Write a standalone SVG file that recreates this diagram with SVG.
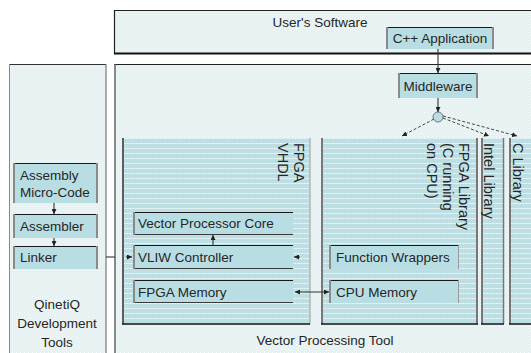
<svg xmlns="http://www.w3.org/2000/svg" width="531" height="353" viewBox="0 0 531 353">
  <defs>
    <style>
      text { font-family: "Liberation Sans", Arial, sans-serif; font-size: 13.5px; fill: #262626; }
      .mid { text-anchor: middle; }
      .vert { font-size: 14.5px; }
      .box { fill: #b8dee3; }
      .edgeTop { stroke: #1a1a1a; stroke-width: 1.2; }
      .edgeSide { stroke: #8a8a8a; stroke-width: 2; }
      .edgeBot { stroke: #3a3a3a; stroke-width: 1; }
      .conn { stroke: #333; stroke-width: 1.1; fill: none; }
      .dash { stroke: #444; stroke-width: 1; stroke-dasharray: 3 2; fill: none; }
    </style>
    <pattern id="haze" width="4" height="4" patternUnits="userSpaceOnUse">
      <rect width="4" height="4" fill="#e4f2f3"/>
      <rect x="0" y="0" width="1" height="1" fill="#f6fbfb"/>
      <rect x="2" y="2" width="1" height="1" fill="#f6fbfb"/>
    </pattern>
    <pattern id="stripes" width="6" height="5" patternUnits="userSpaceOnUse">
      <rect width="6" height="5" fill="#bddfe3"/>
      <rect x="0" y="3" width="6" height="1" fill="#d7edef"/>
      <rect x="1" y="3" width="1" height="1" fill="#eef8f9"/>
      <rect x="4" y="3" width="1" height="1" fill="#eef8f9"/>
    </pattern>
    <marker id="arr" viewBox="0 0 6 6" refX="6" refY="3" markerWidth="5" markerHeight="5" markerUnits="userSpaceOnUse" orient="auto-start-reverse">
      <path d="M0,0 L6,3 L0,6 Z" fill="#222"/>
    </marker>
  </defs>

  <rect width="531" height="353" fill="#ffffff"/>

  <!-- User's Software area -->
  <g id="users-software">
    <rect x="114" y="10.5" width="420" height="43" fill="url(#haze)"/>
    <line x1="114" y1="10.5" x2="531" y2="10.5" stroke="#222" stroke-width="1"/>
    <line x1="114.5" y1="10" x2="114.5" y2="54" stroke="#222" stroke-width="1.2"/>
    <line x1="114" y1="53.5" x2="531" y2="53.5" stroke="#111" stroke-width="2"/>
    <text x="320" y="27" class="mid">User's Software</text>
  </g>

  <!-- QinetiQ development tools area -->
  <g id="qinetiq-tools">
    <rect x="9" y="64" width="97" height="295" fill="url(#haze)"/>
    <line x1="9" y1="64.5" x2="106" y2="64.5" stroke="#333" stroke-width="1"/>
    <line x1="9.5" y1="64" x2="9.5" y2="353" stroke="#888" stroke-width="1"/>
    <line x1="106" y1="64" x2="106" y2="353" stroke="#777" stroke-width="1.2"/>
    <text x="57" y="309" class="mid">QinetiQ</text>
    <text x="57" y="328" class="mid">Development</text>
    <text x="57" y="347" class="mid">Tools</text>
  </g>

  <!-- Vector Processing Tool area -->
  <g id="vector-processing-tool">
    <rect x="114" y="64" width="420" height="295" fill="url(#haze)"/>
    <line x1="114" y1="64.5" x2="531" y2="64.5" stroke="#222" stroke-width="1"/>
    <line x1="115" y1="64" x2="115" y2="353" stroke="#666" stroke-width="1.5"/>
    <text x="325" y="345" class="mid">Vector Processing Tool</text>
  </g>

  <!-- Library panels -->
  <g id="fpga-vhdl">
    <rect x="122" y="138" width="188" height="186" fill="url(#stripes)"/>
    <line x1="123" y1="138" x2="123" y2="324" stroke="#5e5e5e" stroke-width="2"/>
    <line x1="310" y1="138" x2="310" y2="324" stroke="#9a9a9a" stroke-width="1"/>
    <line x1="122" y1="324" x2="310" y2="324" stroke="#111" stroke-width="1.5"/>
    <text class="vert" transform="translate(294,143) rotate(90)">FPGA</text>
    <text class="vert" transform="translate(278,143) rotate(90)">VHDL</text>
  </g>

  <g id="fpga-library">
    <rect x="321" y="138" width="157" height="186" fill="url(#stripes)"/>
    <line x1="322" y1="138" x2="322" y2="324" stroke="#777" stroke-width="2"/>
    <line x1="477" y1="138" x2="477" y2="324" stroke="#777" stroke-width="2"/>
    <line x1="321" y1="324" x2="478" y2="324" stroke="#111" stroke-width="1.5"/>
    <text class="vert" transform="translate(459,143) rotate(90)">FPGA Library</text>
    <text class="vert" transform="translate(443,143) rotate(90)">(C running</text>
    <text class="vert" transform="translate(427,143) rotate(90)">on CPU)</text>
  </g>

  <g id="intel-library">
    <rect x="481" y="138" width="23" height="186" fill="url(#stripes)"/>
    <line x1="482" y1="138" x2="482" y2="324" stroke="#777" stroke-width="2"/>
    <line x1="503.5" y1="138" x2="503.5" y2="324" stroke="#777" stroke-width="1.5"/>
    <line x1="481" y1="324" x2="504" y2="324" stroke="#111" stroke-width="1.5"/>
    <text class="vert" transform="translate(484,143) rotate(90)">Intel Library</text>
  </g>

  <g id="c-library">
    <rect x="509" y="138" width="30" height="186" fill="url(#stripes)"/>
    <line x1="510" y1="138" x2="510" y2="324" stroke="#777" stroke-width="2"/>
    <line x1="509" y1="324" x2="531" y2="324" stroke="#111" stroke-width="1.5"/>
    <text class="vert" transform="translate(513,143) rotate(90)">C Library</text>
  </g>

  <!-- Top-level software nodes -->
  <g id="cpp-application">
    <rect x="386" y="27" width="108" height="22" class="box"/>
    <line x1="386" y1="27.5" x2="494" y2="27.5" class="edgeTop"/>
    <line x1="387" y1="27" x2="387" y2="49" class="edgeSide"/>
    <line x1="493" y1="27" x2="493" y2="49" class="edgeSide"/>
    <text x="440" y="43" class="mid">C++ Application</text>
  </g>

  <g id="middleware">
    <rect x="398" y="73" width="80" height="25" class="box"/>
    <line x1="398" y1="73.5" x2="478" y2="73.5" class="edgeTop"/>
    <line x1="399" y1="73" x2="399" y2="98" class="edgeSide"/>
    <line x1="477" y1="73" x2="477" y2="98" class="edgeSide"/>
    <text x="438" y="91" class="mid">Middleware</text>
  </g>

  <g id="dispatch">
    <circle cx="438" cy="117" r="5" fill="#b8dee3" stroke="#777" stroke-width="1"/>
  </g>

  <!-- Development tool nodes -->
  <g id="assembly-micro-code">
    <rect x="13" y="163" width="85" height="40" class="box"/>
    <line x1="13" y1="163.5" x2="98" y2="163.5" class="edgeTop"/>
    <line x1="14" y1="163" x2="14" y2="203" class="edgeSide"/>
    <line x1="97" y1="163" x2="97" y2="203" class="edgeSide"/>
    <text x="20" y="180">Assembly</text>
    <text x="20" y="197">Micro-Code</text>
  </g>

  <g id="assembler">
    <rect x="13" y="214" width="85" height="24" class="box"/>
    <line x1="13" y1="214.5" x2="98" y2="214.5" class="edgeTop"/>
    <line x1="14" y1="214" x2="14" y2="238" class="edgeSide"/>
    <line x1="97" y1="214" x2="97" y2="238" class="edgeSide"/>
    <text x="20" y="231">Assembler</text>
  </g>

  <g id="linker">
    <rect x="13" y="246" width="85" height="23" class="box"/>
    <line x1="13" y1="246.5" x2="98" y2="246.5" class="edgeTop"/>
    <line x1="14" y1="246" x2="14" y2="269" class="edgeSide"/>
    <line x1="97" y1="246" x2="97" y2="269" class="edgeSide"/>
    <text x="20" y="262">Linker</text>
  </g>

  <!-- FPGA side nodes -->
  <g id="vector-processor-core">
    <rect x="133" y="212" width="160" height="23" class="box"/>
    <line x1="133" y1="212.5" x2="293" y2="212.5" class="edgeTop"/>
    <line x1="133" y1="234.5" x2="293" y2="234.5" class="edgeBot"/>
    <line x1="134" y1="212" x2="134" y2="235" class="edgeSide"/>
    <text x="138" y="228">Vector Processor Core</text>
  </g>

  <g id="vliw-controller">
    <rect x="133" y="245" width="160" height="24" class="box"/>
    <line x1="133" y1="245.5" x2="293" y2="245.5" class="edgeTop"/>
    <line x1="133" y1="268.5" x2="293" y2="268.5" class="edgeBot"/>
    <line x1="134" y1="245" x2="134" y2="269" class="edgeSide"/>
    <text x="138" y="262">VLIW Controller</text>
  </g>

  <g id="fpga-memory">
    <rect x="133" y="280" width="160" height="23" class="box"/>
    <line x1="133" y1="280.5" x2="293" y2="280.5" class="edgeTop"/>
    <line x1="133" y1="302.5" x2="293" y2="302.5" class="edgeBot"/>
    <line x1="134" y1="280" x2="134" y2="303" class="edgeSide"/>
    <text x="138" y="297">FPGA Memory</text>
  </g>

  <!-- CPU side nodes -->
  <g id="function-wrappers">
    <rect x="329" y="245" width="130" height="24" class="box"/>
    <line x1="329" y1="245.5" x2="459" y2="245.5" class="edgeTop"/>
    <line x1="330" y1="245" x2="330" y2="269" class="edgeSide"/>
    <line x1="458.5" y1="245" x2="458.5" y2="269" stroke="#999" stroke-width="1"/>
    <text x="336" y="262">Function Wrappers</text>
  </g>

  <g id="cpu-memory">
    <rect x="329" y="280" width="130" height="23" class="box"/>
    <line x1="329" y1="280.5" x2="459" y2="280.5" class="edgeTop"/>
    <line x1="330" y1="280" x2="330" y2="303" class="edgeSide"/>
    <line x1="458.5" y1="280" x2="458.5" y2="303" stroke="#999" stroke-width="1"/>
    <text x="336" y="297">CPU Memory</text>
  </g>

  <!-- Connectors -->
  <g id="connectors">
    <line x1="438" y1="49" x2="438" y2="73" class="conn" marker-end="url(#arr)"/>
    <line x1="438" y1="98" x2="438" y2="112" class="conn" marker-end="url(#arr)"/>
    <line x1="434" y1="119" x2="402" y2="136" class="dash" marker-end="url(#arr)"/>
    <line x1="443" y1="118" x2="489" y2="136" class="dash" marker-end="url(#arr)"/>
    <line x1="443" y1="116" x2="517" y2="136" class="dash" marker-end="url(#arr)"/>
    <line x1="54" y1="203" x2="54" y2="214" class="conn" marker-end="url(#arr)"/>
    <line x1="54" y1="238" x2="54" y2="246" class="conn" marker-end="url(#arr)"/>
    <line x1="106" y1="257" x2="115" y2="257" class="conn"/>
    <line x1="126" y1="257" x2="132" y2="257" class="conn" marker-end="url(#arr)"/>
    <line x1="300" y1="257" x2="294" y2="257" class="conn" marker-end="url(#arr)"/>
    <line x1="213" y1="245" x2="213" y2="235" class="conn" marker-end="url(#arr)"/>
    <line x1="295" y1="292" x2="329" y2="292" class="conn" marker-start="url(#arr)" marker-end="url(#arr)"/>
  </g>
</svg>
